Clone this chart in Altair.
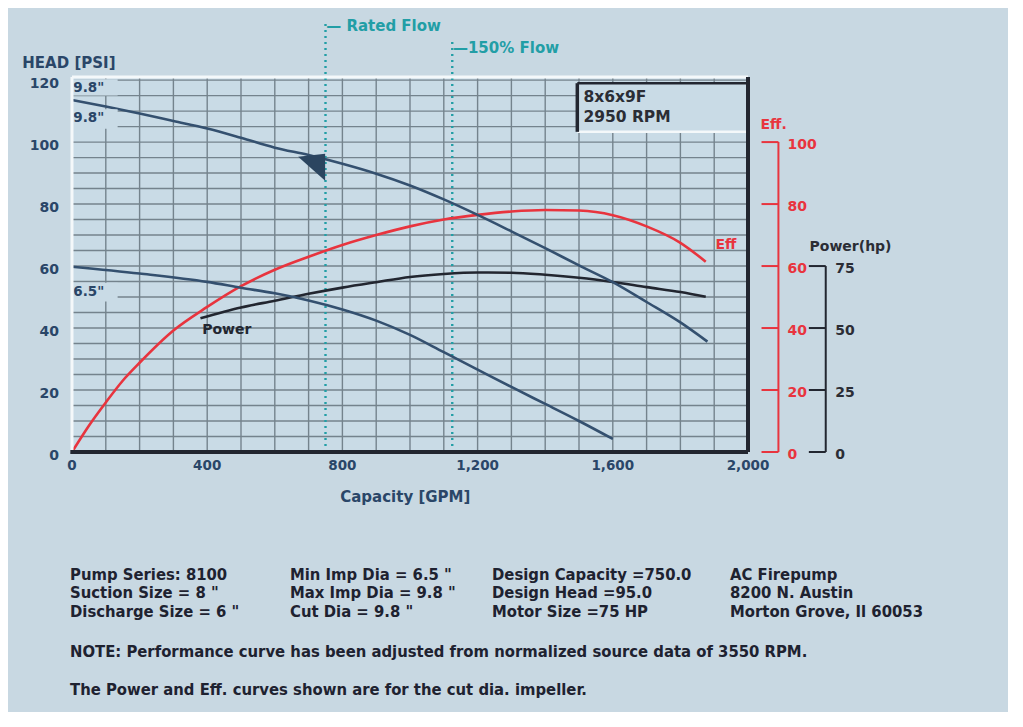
import altair as alt
import pandas as pd

# ---------------- data ----------------
gpm_98 = [0, 100, 200, 300, 400, 500, 600, 700, 800, 900, 1000, 1100, 1200, 1300, 1400, 1500, 1600, 1700, 1800, 1880]
head_98 = [113.6, 111.5, 109.2, 106.8, 104.4, 101.4, 98.2, 95.8, 93.0, 89.8, 86.0, 81.5, 76.5, 71.2, 65.8, 60.2, 54.8, 48.4, 41.8, 35.6]

gpm_65 = [0, 200, 400, 500, 600, 700, 800, 900, 1000, 1100, 1200, 1300, 1400, 1500, 1600]
head_65 = [59.8, 57.6, 54.9, 53.0, 51.2, 48.9, 46.0, 42.4, 37.8, 32.2, 26.6, 21.0, 15.5, 10.0, 4.2]

gpm_eff = [0, 50, 100, 150, 200, 300, 400, 500, 600, 700, 800, 900, 1000, 1100, 1200, 1300, 1400, 1500, 1600, 1700, 1800, 1875]
eff_pct = [0, 8.5, 16.0, 23.0, 28.8, 39.2, 46.8, 53.5, 58.8, 63.0, 66.8, 70.0, 72.8, 75.0, 76.5, 77.6, 78.1, 77.9, 76.4, 72.8, 67.5, 61.4]

gpm_pow = [380, 500, 600, 700, 800, 900, 1000, 1100, 1200, 1300, 1400, 1500, 1600, 1700, 1800, 1875]
power_hp = [53.9, 58.3, 61.0, 63.8, 66.3, 68.5, 70.6, 71.8, 72.4, 72.3, 71.5, 70.3, 68.6, 66.5, 64.5, 62.6]

x_grid = list(range(0, 2001, 100))
y_grid = list(range(0, 121, 5))
x_labels = [0, 400, 800, 1200, 1600, 2000]
y_labels = [0, 20, 40, 60, 80, 100, 120]
eff_ticks = [0, 20, 40, 60, 80, 100]
power_ticks = [0, 25, 50, 75]

rated_flow = 750
flow_150 = 1125
design_marker_gpm = 709
design_marker_head = 91.9

model_lines = ["8x6x9F", "2950 RPM"]
info_col1 = ["Pump Series: 8100", 'Suction Size = 8 "', 'Discharge Size = 6 "']
info_col2 = ['Min Imp Dia = 6.5 "', 'Max Imp Dia = 9.8 "', 'Cut Dia = 9.8 "']
info_col3 = ["Design Capacity =750.0", "Design Head =95.0", "Motor Size =75 HP"]
info_col4 = ["AC Firepump", "8200 N. Austin", "Morton Grove, Il 60053"]
notes = ["NOTE: Performance curve has been adjusted from normalized source data of 3550 RPM.",
         "The Power and Eff. curves shown are for the cut dia. impeller."]

# ---------------- style ----------------
FONT = "DejaVu Sans"
FONT_C = "DejaVu Sans Condensed"
NAVY = "#2a4668"
CURVE = "#34506f"
RED = "#e8343e"
TEAL = "#229ea6"
DARK = "#222630"
TEXT_DARK = "#2b2d35"
BG = "#c8d8e2"
PLOT_BG = "#c9dbe6"
GRID = "#74838d"
WHITE = "#f4f8fa"

W, H = 676, 375
XS = alt.Scale(domain=[0, 2000], nice=False, zero=False)
YS = alt.Scale(domain=[0, 121], nice=False, zero=False)
POWER_TO_HEAD = 60 / 75  # 75 hp sits at the 60 psi level

EFF_AXIS_X, EFF_TICK_X0, EFF_LABEL_X = 2090, 2040, 2117
POW_AXIS_X, POW_TICK_X0, POW_LABEL_X = 2230, 2180, 2258


def X(field="x"):
    return alt.X(f"{field}:Q", scale=XS, axis=None)


def Y(field="y"):
    return alt.Y(f"{field}:Q", scale=YS, axis=None)


def curve(gpm, vals, color, width=2.6):
    df = pd.DataFrame({"x": gpm, "y": vals})
    return alt.Chart(df).mark_line(color=color, strokeWidth=width, interpolate="monotone",
                                   clip=False).encode(x=X(), y=Y())


def label(x, y, text, color, size=14, align="left", dx=0, dy=0, font=FONT):
    df = pd.DataFrame({"x": [x], "y": [y], "t": [text]})
    return alt.Chart(df).mark_text(align=align, baseline="middle", font=font, fontSize=size,
                                   fontWeight="bold", color=color, dx=dx, dy=dy).encode(
        x=X(), y=Y(), text="t:N")


def seg(x, y, x2, y2, color, width, dash=None):
    df = pd.DataFrame({"x": [x], "y": [y], "x2": [x2], "y2": [y2]})
    kw = dict(color=color, strokeWidth=width, clip=False)
    if dash:
        kw["strokeDash"] = dash
    return alt.Chart(df).mark_rule(**kw).encode(x=X(), y=Y(), x2="x2:Q", y2="y2:Q")


def patch(x, x2, y, y2):
    df = pd.DataFrame({"x": [x], "x2": [x2], "y": [y], "y2": [y2]})
    return alt.Chart(df).mark_rect(fill=PLOT_BG, clip=False).encode(
        x=X(), x2="x2:Q", y=Y(), y2="y2:Q")


layers = []

# ---------------- grid ----------------
vg = pd.DataFrame({"x": x_grid})
layers.append(alt.Chart(vg).transform_calculate(y="0", y2="121").mark_rule(
    color=GRID, strokeWidth=1.4).encode(x=X(), y=Y(), y2="y2:Q"))
hg = pd.DataFrame({"y": y_grid})
layers.append(alt.Chart(hg).transform_calculate(x="0", x2="2000").mark_rule(
    color=GRID, strokeWidth=1.4).encode(y=Y(), x=X(), x2="x2:Q"))

# tick labels
xl = pd.DataFrame({"x": x_labels})
layers.append(alt.Chart(xl).transform_calculate(y="0").mark_text(
    font=FONT, fontSize=13.5, fontWeight="bold", color=NAVY, baseline="middle", dy=14).encode(
    x=X(), y=Y(), text=alt.Text("x:Q", format=",d")))
yl = pd.DataFrame({"y": y_labels})
layers.append(alt.Chart(yl).transform_calculate(x="0").mark_text(
    font=FONT, fontSize=14, fontWeight="bold", color=NAVY, baseline="middle", align="right",
    dx=-13, dy=4).encode(x=X(), y=Y(), text=alt.Text("y:Q", format="d")))

layers.append(label(-147, 125.5, "HEAD [PSI]", NAVY, 15))
layers.append(label(986, -14.5, "Capacity [GPM]", NAVY, 15, align="center"))

# rated-flow guides
layers.append(seg(rated_flow, 0, rated_flow, 139.4, TEAL, 2.4, [2, 4]))
layers.append(seg(flow_150, 0, flow_150, 132.9, TEAL, 2.4, [2, 4]))
layers.append(label(rated_flow + 2, 137.3, "— Rated Flow", TEAL, 15))
layers.append(label(flow_150 + 2, 130.3, "—150% Flow", TEAL, 15))

# curves
pow_df = pd.DataFrame({"x": gpm_pow, "hp": power_hp})
power_curve = alt.Chart(pow_df).transform_calculate(y=f"datum.hp * {POWER_TO_HEAD}").mark_line(
    color=DARK, strokeWidth=2.6, interpolate="monotone").encode(x=X(), y=Y())
layers += [
    curve(gpm_eff, eff_pct, RED),
    power_curve,
    curve(gpm_65, head_65, CURVE),
    curve(gpm_98, head_98, CURVE),
]

# design point marker
dp = pd.DataFrame({"x": [design_marker_gpm], "y": [design_marker_head]})
layers.append(alt.Chart(dp).mark_point(shape="M -1 -0.77 L 1 -1 L 1 1 Z", size=730, filled=True,
                                       opacity=1, color="#2b4560").encode(x=X(), y=Y()))

# model box
layers.append(patch(1495, 2000, 103.3, 119.0))
layers.append(seg(1495, 103.3, 2000, 103.3, WHITE, 2.5))
layers.append(seg(1495, 103.3, 1495, 119.0, DARK, 3.5))
layers.append(seg(1495, 119.0, 2000, 119.0, DARK, 2.5))
layers.append(label(1513, 114.6, model_lines[0], TEXT_DARK, 15.5))
layers.append(label(1513, 108.0, model_lines[1], TEXT_DARK, 15.5))

# curve labels (with plain backing so the grid stops behind them)
layers += [
    patch(2, 135, 115.0, 120.3),
    patch(2, 135, 104.3, 110.6),
    patch(2, 135, 48.6, 54.6),
    label(4, 117.4, '9.8"', NAVY, 13.5),
    label(4, 107.7, '9.8"', NAVY, 13.5),
    label(4, 51.6, '6.5"', NAVY, 13.5),
    label(385, 39.4, "Power", DARK, 14),
    label(1904, 66.8, "Eff", RED, 14),
]

# plot frame (white top/left, dark bottom/right)
layers += [
    seg(0, 121, 2000, 121, WHITE, 3),
    seg(0, 0, 0, 121, WHITE, 3),
    seg(-5, 0, 2000, 0, DARK, 4),
    seg(2000, 0, 2000, 121, DARK, 4),
]

# efficiency axis (right, red)
layers.append(seg(EFF_AXIS_X, 0, EFF_AXIS_X, 100, RED, 2))
for v in eff_ticks:
    layers.append(seg(EFF_TICK_X0, v, EFF_AXIS_X, v, RED, 2))
    layers.append(label(EFF_LABEL_X, v, str(v), RED, 14, dy=3))
layers.append(label(2037, 105.5, "Eff.", RED, 14))

# power axis (right, dark)
layers.append(seg(POW_AXIS_X, 0, POW_AXIS_X, 75 * POWER_TO_HEAD, DARK, 2))
for v in power_ticks:
    layers.append(seg(POW_TICK_X0, v * POWER_TO_HEAD, POW_AXIS_X, v * POWER_TO_HEAD, DARK, 2))
    layers.append(label(POW_LABEL_X, v * POWER_TO_HEAD, str(v), TEXT_DARK, 14, dy=3))
layers.append(label(2182, 66.1, "Power(hp)", TEXT_DARK, 14))

# info block under the chart (pixel positions relative to plot origin)
col_x = [-2, 218, 420, 658]
row_y = [498, 516, 535]
for cx, col in zip(col_x, [info_col1, info_col2, info_col3, info_col4]):
    for ry, txt in zip(row_y, col):
        layers.append(alt.Chart(pd.DataFrame({"t": [txt]})).mark_text(
            align="left", baseline="middle", font=FONT_C, fontSize=16.5, fontWeight="bold",
            color="#1e2230").encode(x=alt.value(cx), y=alt.value(ry), text="t:N"))
for ry, txt in zip([575, 613], notes):
    layers.append(alt.Chart(pd.DataFrame({"t": [txt]})).mark_text(
        align="left", baseline="middle", font=FONT_C, fontSize=16.5, fontWeight="bold",
        color="#1e2230").encode(x=alt.value(-2), y=alt.value(ry), text="t:N"))

chart = alt.layer(*layers).properties(
    width=W, height=H,
    autosize=alt.AutoSizeParams(type="none"),
    padding={"left": 64, "top": 69, "right": 260, "bottom": 260},
    background=BG,
).configure_view(fill=PLOT_BG, stroke=None)

chart.save("out.html", embed_options={"renderer": "svg", "actions": False})
